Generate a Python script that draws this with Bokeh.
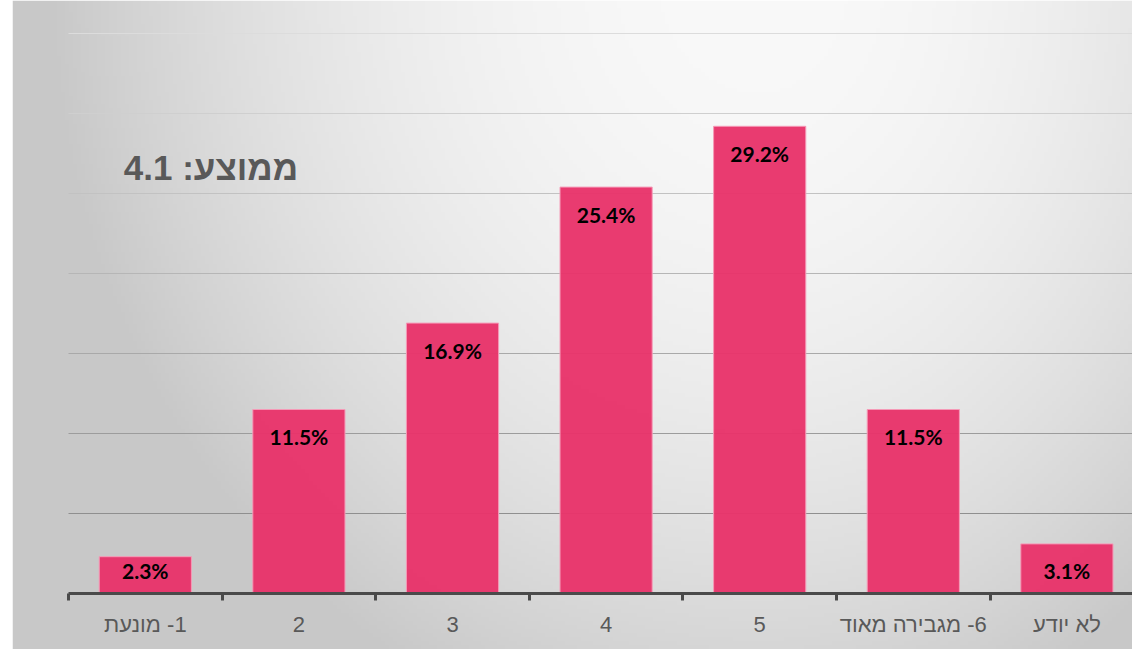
import numpy as np
from bokeh.plotting import figure
from bokeh.models import LinearAxis, FixedTicker, Label, Range1d
from bokeh.core.properties import value
from bokeh.embed import file_html
from bokeh.resources import INLINE

# ---------------- data ----------------
categories = ["1- מונעת", "2", "3", "4", "5", "6- מגבירה מאוד", "לא יודע"]
percent = [2.3, 11.5, 16.9, 25.4, 29.2, 11.5, 3.1]
grid_values = [5, 10, 15, 20, 25, 30, 35]
average_text = "ממוצע: 4.1"

RLM = "\u200f"
display_labels = [RLM + c for c in categories]

# ---------------- geometry ----------------
W, H = 1132, 649
ML = 12
PX_PER_CAT = 153.6
PX_PER_PCT = 16.0
AXIS_X0 = 68
AXIS_Y0 = 593
frame_w = W - ML
x_start = -(AXIS_X0 - ML) / PX_PER_CAT
x_end = x_start + frame_w / PX_PER_CAT
y_end = AXIS_Y0 / PX_PER_PCT
y_start = -(H - AXIS_Y0) / PX_PER_PCT

p = figure(width=W, height=H,
           x_range=Range1d(x_start, x_end), y_range=Range1d(y_start, y_end),
           output_backend="svg", toolbar_location=None,
           x_axis_location=None, y_axis_location=None,
           min_border_left=ML, min_border_right=0, min_border_top=0, min_border_bottom=0,
           border_fill_color="white", outline_line_color=None)
p.xgrid.visible = False
p.ygrid.visible = False

# ---------------- background gradient ----------------
nx, ny = 280, 162
px = ML + (np.arange(nx) + 0.5) * frame_w / nx
py = H - (np.arange(ny) + 0.5) * H / ny
PX, PY = np.meshgrid(px, py)
cx, cy = 760.0, -20.0
rx = np.where(PX < cx, 720.0, 620.0)
t2 = ((PX - cx) / rx) ** 2 + ((PY - cy) / 800.0) ** 2
g = np.clip(249 - 50 * t2, 200, 249).astype(np.uint8)
img = np.empty((ny, nx), dtype=np.uint32)
view = img.view(dtype=np.uint8).reshape((ny, nx, 4))
view[:, :, 0] = g
view[:, :, 1] = g
view[:, :, 2] = g
view[:, :, 3] = 255
p.image_rgba(image=[img], x=x_start, y=y_start, dw=x_end - x_start, dh=y_end - y_start)

# ---------------- gridlines (darker towards the bottom) ----------------
n = len(categories)
gmin, gmax = min(grid_values), max(grid_values)
grid_colors = []
for v in grid_values:
    c = int(round(143 + (v - gmin) / (gmax - gmin) * 77))
    grid_colors.append("#%02x%02x%02x" % (c, c, c))
p.segment(x0=[0] * len(grid_values), x1=[n] * len(grid_values),
          y0=grid_values, y1=grid_values,
          line_color=grid_colors, line_width=1)

# ---------------- bars ----------------
xs = [i + 0.5 for i in range(n)]
p.vbar(x=xs, top=percent, bottom=0, width=0.6,
       fill_color="#E8336A", fill_alpha=0.96,
       line_color="#F59AB7", line_width=1)

# ---------------- data labels ----------------
label_y = [max(v - 27 / PX_PER_PCT, 23 / PX_PER_PCT) for v in percent]
p.text(x=xs, y=label_y, text=[f"{v:.1f}%" for v in percent],
       text_align="center", text_baseline="middle",
       text_font=value("Lato"), text_font_style="bold",
       text_font_size="21px", text_color="black")

# ---------------- axes ----------------
tick_axis = LinearAxis(ticker=FixedTicker(ticks=list(range(n + 1))),
                       fixed_location=0, bounds=(0, n),
                       axis_line_color="#4a4a4a", axis_line_width=3,
                       major_tick_line_color="#4a4a4a", major_tick_line_width=3,
                       major_tick_in=0, major_tick_out=7,
                       minor_tick_line_color=None,
                       major_label_overrides={i: "" for i in range(n + 1)})
label_axis = LinearAxis(ticker=FixedTicker(ticks=xs),
                        fixed_location=0,
                        axis_line_color=None, major_tick_line_color=None,
                        minor_tick_line_color=None,
                        major_tick_in=0, major_tick_out=0,
                        major_label_standoff=18,
                        major_label_overrides={x: lab for x, lab in zip(xs, display_labels)},
                        major_label_text_font="Liberation Sans",
                        major_label_text_font_size="22px",
                        major_label_text_color="#595959")
p.add_layout(tick_axis, "below")
p.add_layout(label_axis, "below")

# ---------------- average annotation ----------------
p.add_layout(Label(x=(210.5 - AXIS_X0) / PX_PER_CAT, y=(AXIS_Y0 - 167) / PX_PER_PCT,
                   text=average_text, text_align="center", text_baseline="middle",
                   text_font="Liberation Sans", text_font_style="bold",
                   text_font_size="35px", text_color="#595959"))

open("out.html", "w").write(file_html(p, INLINE))
